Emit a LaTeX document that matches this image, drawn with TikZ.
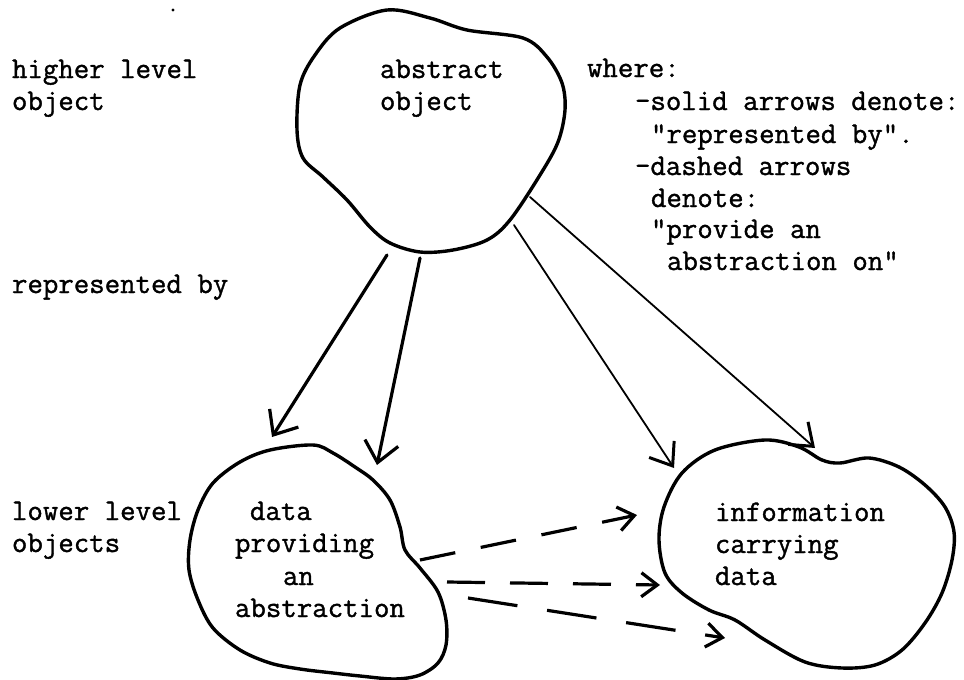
\documentclass[tikz,border=0pt]{standalone}
\usepackage{fontspec}
\newfontfamily\typewriter{Latin Modern Mono}[FakeBold=1.2]
\usetikzlibrary{arrows.meta}
\begin{document}
\begin{tikzpicture}[x=1pt,y=-1pt,
  txt/.style={font=\typewriter\fontsize{30}{32}\selectfont, anchor=base west, inner sep=0pt, outer sep=0pt},
  blob/.style={line width=3.4pt, line join=round},
  heavy/.style={line width=3.2pt, line cap=round, -{Straight Barb[length=20pt,width=34pt,line width=3.2pt]}},
  light/.style={line width=1.8pt, line cap=round, -{Straight Barb[length=20pt,width=30pt,line width=3pt]}},
  dashy/.style={line width=3.2pt, -{Straight Barb[length=16pt,width=24pt,line width=3.2pt]}},
]
\useasboundingbox (0,0) rectangle (964,680);

% stray speck near the top
\fill (173,10) circle (1.6pt);

% row labels on the left
\node[txt] (hl1) at (12,78) {higher level};
\node[txt] (hl2) at (12,110) {object};
\node[txt] (rb) at (12,293) {represented by};
\node[txt] (ll1) at (12,520) {lower level};
\node[txt] (ll2) at (12,552) {objects};

% legend
\node[txt] (lg1) at (587,77) {where:};
\node[txt] (lg2) at (635,110) {-solid arrows denote:};
\node[txt] (lg3) at (651,143) {"represented by".};
\node[txt] (lg4) at (635,175) {-dashed arrows};
\node[txt] (lg5) at (651,207) {denote:};
\node[txt] (lg6) at (651,238) {"provide an};
\node[txt] (lg7) at (667,270) {abstraction on"};

% abstract object
\draw[blob] plot[smooth cycle, tension=0.55] coordinates {
  (387,10) (430,18) (467,30) (523,38) (547,57) (562,83) (565,110)
  (558,142) (540,175) (510,220) (487,240) (453,250) (420,252) (390,243)
  (370,227) (347,200) (323,177) (303,158) (297,130) (300,85) (315,55)
  (340,28)};
\node[txt] (ao1) at (380,78) {abstract};
\node[txt] (ao2) at (380,110) {object};

% data providing an abstraction
\draw[blob] plot[smooth cycle, tension=0.55] coordinates {
  (313,445) (333,453) (355,467) (373,480) (390,500) (400,527) (405,550)
  (420,568) (438,592) (446,620) (446,645) (438,663) (420,675) (395,679)
  (360,676) (333,673) (300,669) (270,663) (240,650) (213,628) (198,600)
  (189,570) (190,540) (198,510) (213,483) (240,462) (270,450)};
\node[txt] (dp1) at (250,520) {data};
\node[txt] (dp2) at (235,552) {providing};
\node[txt] (dp3) at (283,585) {an};
\node[txt] (dp4) at (235,617) {abstraction};

% information carrying data
\draw[blob] plot[smooth cycle, tension=0.55] coordinates {
  (682,473) (715,450) (765,440) (799,447) (822,460) (840,463) (869,458)
  (899,467) (925,485) (945,507) (954,532) (952,560) (942,593) (925,623)
  (902,650) (875,665) (842,668) (805,662) (765,640) (735,620) (709,610)
  (682,593) (665,573) (659,540) (664,507)};
\node[txt] (ic1) at (715,521) {information};
\node[txt] (ic2) at (715,553) {carrying};
\node[txt] (ic3) at (715,585) {data};

% connector ends on the outlines
\coordinate (ao-a) at (387,255);
\coordinate (ao-b) at (420,258);
\coordinate (ao-c) at (514,225);
\coordinate (ao-d) at (530,197);
\coordinate (dp-a) at (272,437);
\coordinate (dp-b) at (377,465);
\coordinate (ic-a) at (674,468);
\coordinate (ic-b) at (815,448);
\coordinate (dp-r1) at (420,560);
\coordinate (dp-r2) at (447,582);
\coordinate (dp-r3) at (468,598);
\coordinate (ic-l1) at (637,515);
\coordinate (ic-l2) at (660,585);
\coordinate (ic-l3) at (725,638);

% represented by
\draw[heavy] (ao-a) -- (dp-a);
\draw[heavy] (ao-b) -- (dp-b);
\draw[light] (ao-c) -- (ic-a);
\draw[light] (ao-d) -- (ic-b);

% provide an abstraction on
\draw[dashy, dash pattern=on 36pt off 26pt] (dp-r1) -- (ic-l1);
\draw[dashy, dash pattern=on 38pt off 25pt] (dp-r2) -- (ic-l2);
\draw[dashy, dash pattern=on 50pt off 30pt] (dp-r3) -- (ic-l3);
\end{tikzpicture}
\end{document}
